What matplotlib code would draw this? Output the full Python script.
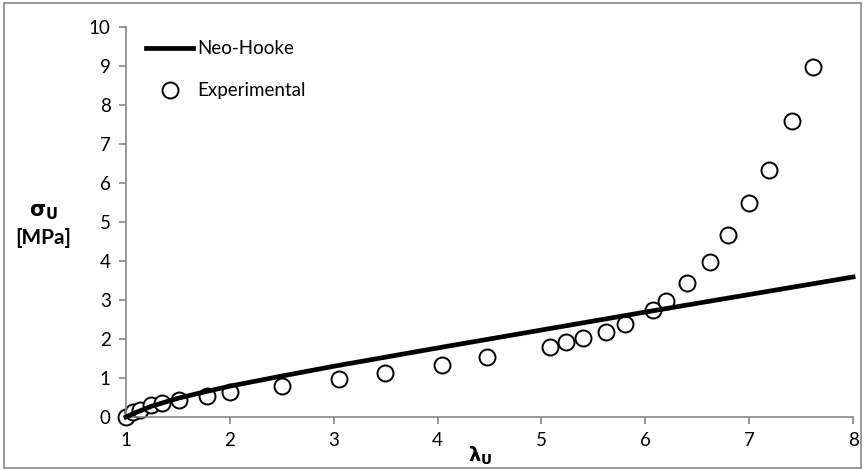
import matplotlib.pyplot as plt
from matplotlib.patches import Rectangle

plt.rcParams['font.family'] = ['Lato', 'DejaVu Sans']

# experimental points (stretch, stress in MPa)
lam_exp = [1.0, 1.07, 1.13, 1.24, 1.35, 1.51, 1.78, 2.0, 2.5, 3.05, 3.49, 4.04, 4.48,
           5.08, 5.24, 5.40, 5.62, 5.80, 6.07, 6.20, 6.40, 6.62, 6.80, 7.0, 7.19, 7.41, 7.61]
sig_exp = [0.0, 0.14, 0.18, 0.31, 0.35, 0.44, 0.54, 0.65, 0.79, 0.97, 1.12, 1.33, 1.53,
           1.80, 1.91, 2.02, 2.17, 2.38, 2.74, 2.97, 3.43, 3.98, 4.67, 5.48, 6.33, 7.60, 8.98]

# Neo-Hooke curve
lam_nh = [1.0, 1.1, 1.25, 1.5, 1.75, 2.0, 2.5, 3.0, 4.0, 5.0, 6.0, 7.0, 8.0]
sig_nh = [0.0, 0.12, 0.28, 0.48, 0.64, 0.79, 1.05, 1.30, 1.77, 2.23, 2.69, 3.14, 3.59]

fig = plt.figure(figsize=(8.65, 4.70), dpi=100)
ax = fig.add_axes([0.1457, 0.1128, 0.8405, 0.8298])

ax.plot(lam_nh, sig_nh, color='black', lw=3.4, label='Neo-Hooke', zorder=3, clip_on=False)
ax.plot(lam_exp, sig_exp, ls='none', marker='o', ms=11.5, mfc='white', mec='black',
        mew=1.4, label='Experimental', zorder=2, clip_on=False)

ax.set_xlim(1, 8)
ax.set_ylim(0, 10)
ax.set_xticks(range(1, 9))
ax.set_yticks(range(0, 11))

gray = '#868686'
for s in ['top', 'right']:
    ax.spines[s].set_visible(False)
for s in ['left', 'bottom']:
    ax.spines[s].set_color(gray)
    ax.spines[s].set_linewidth(1.2)
ax.tick_params(colors=gray, labelcolor='black', labelsize=13.5, length=5, width=1.2, pad=6)

fig.text(0.05, 0.548, r'$\mathbf{\sigma_U}$', fontsize=15, ha='center', va='center')
fig.text(0.05, 0.493, '[MPa]', fontsize=15, ha='center', va='center', fontweight='bold')
fig.text(0.555, 0.03, r'$\mathbf{\lambda_U}$', fontsize=14, ha='center', va='center')

ax.legend(loc='upper left', bbox_to_anchor=(0.01, 1.0), frameon=False, fontsize=13.5,
          handlelength=2.5, handletextpad=0.2, labelspacing=1.35, borderaxespad=0.3)

fig.patches.append(Rectangle((0.005, 0.005), 0.99, 0.988, transform=fig.transFigure,
                             fill=False, edgecolor=gray, lw=1.2))

fig.savefig('out.png', dpi=100)
